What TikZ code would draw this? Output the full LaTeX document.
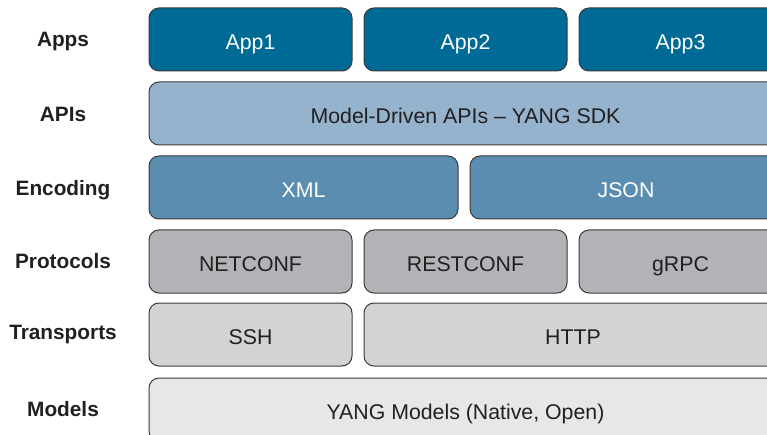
\documentclass[tikz,border=0pt]{standalone}
\usepackage{fontspec}
\setmainfont{Liberation Sans}
\definecolor{appblue}{HTML}{006A96}
\definecolor{apiblue}{HTML}{95B3CC}
\definecolor{encblue}{HTML}{5B8DB0}
\definecolor{protgray}{HTML}{B2B3B6}
\definecolor{transgray}{HTML}{D2D3D5}
\definecolor{modelgray}{HTML}{E6E7E8}
\definecolor{linegray}{HTML}{3A3A3C}
\definecolor{textgray}{HTML}{231F20}
\tikzset{
  layer/.style={draw=linegray, line width=1pt, rounded corners=10pt,
    minimum height=63pt, inner sep=0pt, text=textgray,
    text height=20pt, text depth=0.8pt,
    font=\fontsize{21.3}{25}\selectfont},
  rowlabel/.style={text=textgray, inner sep=0pt, text height=14.9pt,
    text depth=0pt, font=\bfseries\fontsize{20.8}{25}\selectfont},
}
\begin{document}
\begin{tikzpicture}[x=1pt,y=-1pt]
  \clip (0,0) rectangle (767,435);
  \node[rowlabel] (lapps) at (63,39.5) {Apps};
  \node[rowlabel] (lapis) at (63,114.5) {APIs};
  \node[rowlabel] (lenc) at (63,188) {Encoding};
  \node[rowlabel] (lprot) at (63,261.5) {Protocols};
  \node[rowlabel] (ltrans) at (63,332) {Transports};
  \node[rowlabel] (lmodels) at (63,409) {Models};
  \node[layer, fill=appblue, text=white, minimum width=203pt] (app1) at (250.5,39.5) {App1};
  \node[layer, fill=appblue, text=white, minimum width=203pt] (app2) at (465.5,39.5) {App2};
  \node[layer, fill=appblue, text=white, minimum width=203pt] (app3) at (680.5,39.5) {App3};
  \node[layer, fill=apiblue, minimum width=633pt] (apis) at (465.5,113.5) {Model-Driven APIs -- YANG SDK};
  \node[layer, fill=encblue, text=white, minimum width=309pt] (xml) at (303.5,187.5) {XML};
  \node[layer, fill=encblue, text=white, minimum width=312pt] (json) at (626,187.5) {JSON};
  \node[layer, fill=protgray, minimum width=203pt] (netconf) at (250.5,261.5) {NETCONF};
  \node[layer, fill=protgray, minimum width=203pt] (restconf) at (465.5,261.5) {RESTCONF};
  \node[layer, fill=protgray, minimum width=203pt] (grpc) at (680.5,261.5) {gRPC};
  \node[layer, fill=transgray, minimum width=203pt] (ssh) at (250.5,334.5) {SSH};
  \node[layer, fill=transgray, minimum width=418pt] (http) at (573,334.5) {HTTP};
  \node[layer, fill=modelgray, minimum width=633pt] (yang) at (465.5,409.5) {YANG Models (Native, Open)};
\end{tikzpicture}
\end{document}
